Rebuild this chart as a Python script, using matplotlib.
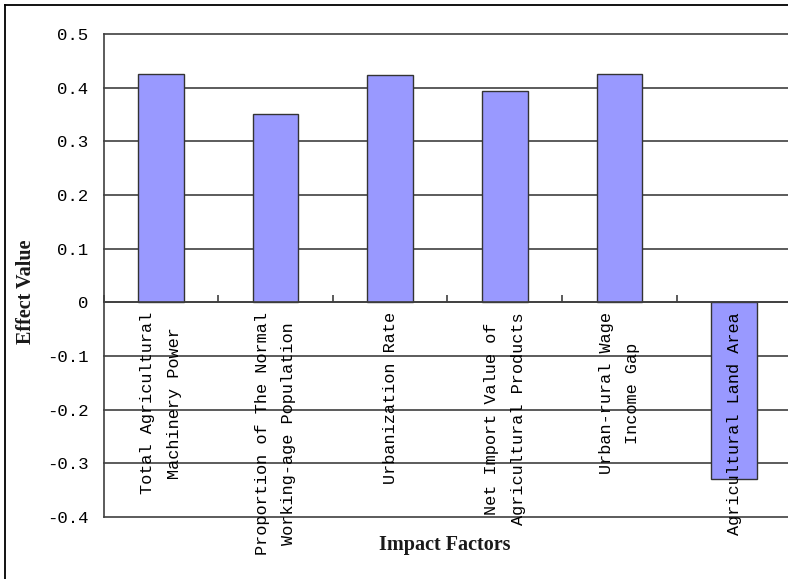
import matplotlib.pyplot as plt
import numpy as np
from matplotlib.lines import Line2D

# impact factors and their effect values
factors = [
    "Total Agricultural\nMachinery Power",
    "Proportion of The Normal\nWorking-age Population",
    "Urbanization Rate",
    "Net Import Value of\nAgricultural Products",
    "Urban-rural Wage\nIncome Gap",
    "Agricultural Land Area",
]
effects = [0.426, 0.350, 0.424, 0.394, 0.426, -0.330]
yticks = [-0.4, -0.3, -0.2, -0.1, 0, 0.1, 0.2, 0.3, 0.4, 0.5]
ytick_labels = ["-0.4", "-0.3", "-0.2", "-0.1", "0", "0.1", "0.2", "0.3", "0.4", "0.5"]

line_col = "#3f3f3f"
mono = "Liberation Mono"
serif = "Liberation Serif"

fig = plt.figure(figsize=(7.88, 5.79), dpi=100)
ax = fig.add_axes([103.5 / 788, 1 - 517 / 579, 688 / 788, 483 / 579])

x = np.arange(len(factors))
ax.bar(x, effects, width=0.40, color="#9999ff", edgecolor="#333333", linewidth=1.0, zorder=1)

ax.set_xlim(-0.5, len(factors) - 0.5)
ax.set_ylim(-0.4, 0.5)

# gridlines drawn under the bars, tick labels stay on top
for yv in yticks:
    ax.axhline(yv, color=line_col, linewidth=1.2, zorder=0, clip_on=False)
ax.set_yticks(yticks)
ax.set_yticklabels(ytick_labels, fontfamily=mono, fontsize=12.5)
ax.tick_params(axis="y", length=0, pad=11)

# x axis at zero, labels hanging below it
ax.spines["bottom"].set_position(("data", 0))
ax.spines["bottom"].set_color(line_col)
ax.spines["bottom"].set_linewidth(1.2)
ax.spines["left"].set_color(line_col)
ax.spines["left"].set_linewidth(1.2)
ax.spines["top"].set_visible(False)
ax.spines["right"].set_visible(False)

ax.set_xticks(x)
ax.set_xticklabels(factors, rotation=90, fontfamily=mono, fontsize=12.2,
                   ha="center", va="top", multialignment="center", linespacing=1.95)
ax.tick_params(axis="x", which="major", length=0, pad=7)
ax.set_xticks(np.arange(len(factors) + 1) - 0.5, minor=True)
ax.tick_params(axis="x", which="minor", direction="in", length=5, width=1.2, color=line_col)

fig.text(26 / 788, 1 - 292 / 579, "Effect Value", rotation=90, ha="center", va="center",
         fontfamily=serif, fontweight="bold", fontsize=14.5, color="#1a1a1a")
fig.text(445 / 788, 1 - 545 / 579, "Impact Factors", ha="center", va="center",
         fontfamily=serif, fontweight="bold", fontsize=14.5, color="#1a1a1a")

# outer frame
fig.add_artist(Line2D([5 / 788, 1], [1 - 5 / 579, 1 - 5 / 579], color="black", linewidth=1.3))
fig.add_artist(Line2D([5 / 788, 5 / 788], [0, 1 - 5 / 579], color="black", linewidth=1.3))

fig.savefig("out.png", dpi=100)
